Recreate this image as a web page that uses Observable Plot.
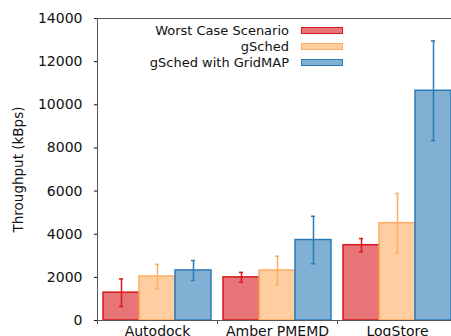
<!DOCTYPE html>
<html>
<head>
<meta charset="utf-8">
<script src="https://cdn.jsdelivr.net/npm/d3@7"></script>
<script src="https://cdn.jsdelivr.net/npm/@observablehq/plot@0.6"></script>
<style>
  html, body { margin: 0; padding: 0; background: #fff; overflow: hidden; }
  #wrap { position: relative; width: 451px; height: 336px; }
  #legend { position: absolute; left: 100px; top: 22px; font: 13px "DejaVu Sans", sans-serif; color: #111; }
  .row { display: flex; align-items: center; height: 16.4px; }
  .lab { width: 189px; text-align: right; margin-right: 12px; white-space: nowrap; }
  .sw { width: 40px; height: 5px; border: 1.5px solid; }
</style>
</head>
<body>
<div id="wrap"><div id="legend"></div></div>
<script>
const categories = ["Autodock", "Amber PMEMD", "LogStore"];
const series = ["Worst Case Scenario", "gSched", "gSched with GridMAP"];
const worstCase = [1290, 2000, 3490];
const worstCaseErr = [640, 230, 310];
const gsched = [2040, 2320, 4510];
const gschedErr = [560, 660, 1380];
const gridmap = [2320, 3730, 10650];
const gridmapErr = [460, 1100, 2310];
const yTicks = [0, 2000, 4000, 6000, 8000, 10000, 12000, 14000];
const yLabel = "Throughput (kBps)";
const strokeColors = ["#d7191c", "#fdae61", "#2c7bb6"];

const values = [worstCase, gsched, gridmap];
const errs = [worstCaseErr, gschedErr, gridmapErr];
const data = [];
series.forEach((s, i) => categories.forEach((c, j) => data.push({cat: c, series: s, si: i, value: values[i][j], err: errs[i][j]})));

const band = 120, pad = 6, w = 36;
const marks = [];
series.forEach((s, i) => {
  const d = data.filter(r => r.si === i);
  const left = pad + i * w;
  const center = left + w / 2;
  marks.push(Plot.barY(d, {x: "cat", y: "value", fill: "series", fillOpacity: 0.6, stroke: "series", strokeWidth: 1.5,
    insetLeft: left, insetRight: band - left - w}));
  marks.push(Plot.ruleX(d, {x: "cat", y1: r => r.value - r.err, y2: r => r.value + r.err, dx: center - band / 2, stroke: "series", strokeWidth: 1.5}));
  marks.push(Plot.tickY(d, {x: "cat", y: r => r.value - r.err, stroke: "series", strokeWidth: 1.5, insetLeft: center - 2, insetRight: band - center - 2}));
  marks.push(Plot.tickY(d, {x: "cat", y: r => r.value + r.err, stroke: "series", strokeWidth: 1.5, insetLeft: center - 2, insetRight: band - center - 2}));
});
marks.push(Plot.frame({stroke: "#555", strokeWidth: 1}));
marks.push(Plot.ruleX(categories, {x: d => d, dx: -band / 2, y1: 0, y2: 0, insetBottom: -4, stroke: "#555"}));
marks.push(Plot.text([yLabel], {text: d => d, frameAnchor: "left", dx: -79, rotate: -90, textAnchor: "middle", lineAnchor: "middle", fontSize: 13.5, fill: "#111"}));

const chart = Plot.plot({
  width: 451,
  height: 336,
  marginLeft: 97,
  marginRight: -6,
  marginTop: 18,
  marginBottom: 16,
  style: {fontFamily: "DejaVu Sans, sans-serif", fontSize: "14px", color: "#111", background: "white"},
  x: {domain: categories, padding: 0, tickSize: 0, tickPadding: 6, label: null},
  y: {domain: [0, 14000], ticks: yTicks, tickFormat: d3.format("d"), tickSize: 3, tickPadding: 12, label: null},
  color: {domain: series, range: strokeColors},
  marks
});
document.getElementById("wrap").prepend(chart);

const legend = document.getElementById("legend");
series.forEach((s, i) => {
  const row = document.createElement("div");
  row.className = "row";
  const lab = document.createElement("div");
  lab.className = "lab";
  lab.textContent = s;
  const sw = document.createElement("div");
  sw.className = "sw";
  sw.style.borderColor = strokeColors[i];
  sw.style.background = d3.color(strokeColors[i]).copy({opacity: 0.6});
  row.append(lab, sw);
  legend.append(row);
});
</script>
</body>
</html>
